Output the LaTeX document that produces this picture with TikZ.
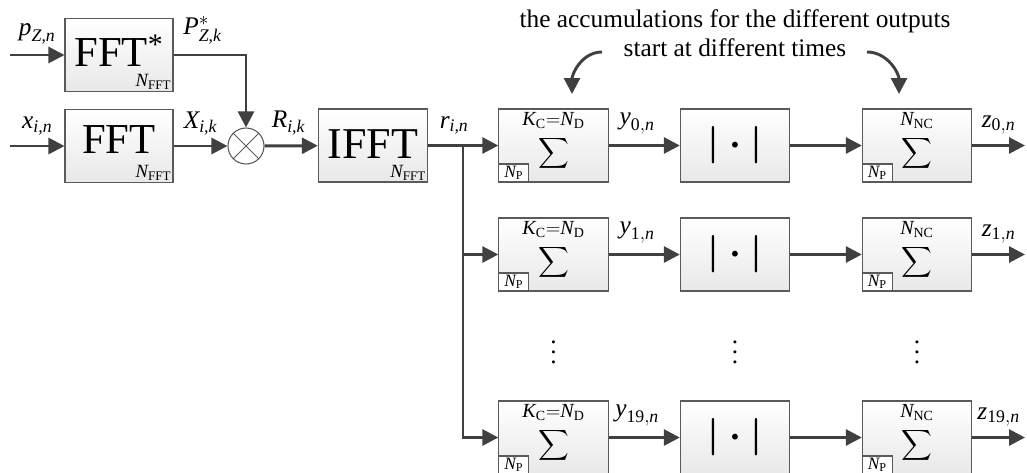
\documentclass[tikz,border=0pt]{standalone}
\usepackage{amsmath}
\usepackage{fontspec}
\setmainfont{Liberation Serif}
\usetikzlibrary{arrows.meta,positioning}
\definecolor{sigGray}{HTML}{404040}
\definecolor{boxEdge}{HTML}{5A5A5A}
\definecolor{boxFill}{HTML}{E8E8E8}
\newcommand{\tv}[1]{\textit{#1}}
\newcommand{\tu}[1]{\textup{#1}}
\newcommand{\accsym}{\raisebox{-10.2pt}[0pt][0pt]{\scalebox{1.6}{$\displaystyle\sum$}}}
\newcommand{\abssym}{\scalebox{2.8}{\boldmath$|\cdot|$}}

\begin{document}
\begin{tikzpicture}[x=0.75pt,y=-0.75pt,>={Triangle[length=12pt,width=12pt]},
  sig/.style={draw=sigGray,line width=2.2pt},
  blk/.style={draw=boxEdge,line width=0.8pt,top color=white,bottom color=boxFill,minimum width=82pt,minimum height=54.75pt,inner sep=0pt},
  big/.style={font=\fontsize{32}{33}\selectfont},
  lab/.style={font=\fontsize{19}{21}\selectfont,inner sep=3pt},
  nfft/.style={label={[anchor=south east,inner sep=1.5pt,font=\fontsize{14}{14}\selectfont]south east:$\tv{N}_{\tu{FFT}}$}},
  npbox/.style={anchor=south west,draw=boxEdge,line width=0.8pt,fill=white,minimum width=22.5pt,minimum height=13.5pt,inner sep=0pt,font=\fontsize{13}{13}\selectfont},
  acc/.style={blk,label={[npbox]south west:$\tv{N}_{\tu{P}}$},label={[anchor=north,inner sep=1pt,yshift=-1.5pt,font=\fontsize{15}{15}\selectfont]north:#1}},
  mult/.style={circle,draw=boxEdge,line width=0.8pt,fill=white,minimum size=27pt,inner sep=0pt}]
  \useasboundingbox (0,0) rectangle (1027,472);
  \node[blk,big,nfft,minimum width=81pt] (fftp) at (119,55) {\raisebox{-8.7pt}[0pt][0pt]{FFT\textsuperscript{*}}};
  \node[blk,big,nfft,minimum width=81pt] (fftx) at (119,146) {\raisebox{-5.3pt}[0pt][0pt]{FFT}};
  \node[mult] (m) at (246,146) {};
  \draw[boxEdge,line width=0.6pt] (m.45) -- (m.225) (m.135) -- (m.315);
  \node[blk,nfft,font=\fontsize{33}{34}\selectfont] (ifft) at (373,145.5) {\raisebox{-9.4pt}[0pt][0pt]{IFFT}};
  \node[acc={$\tv{K}_{\tu{C}}{=}\tv{N}_{\tu{D}}$}] (s0) at (553.5,145.5) {\accsym};
  \node[blk] (a0) at (735,145.5) {\abssym};
  \node[acc={$\tv{N}_{\tu{NC}}$}] (t0) at (917,145.5) {\accsym};
  \node[acc={$\tv{K}_{\tu{C}}{=}\tv{N}_{\tu{D}}$}] (s1) at (553.5,254.5) {\accsym};
  \node[blk] (a1) at (735,254.5) {\abssym};
  \node[acc={$\tv{N}_{\tu{NC}}$}] (t1) at (917,254.5) {\accsym};
  \node[acc={$\tv{K}_{\tu{C}}{=}\tv{N}_{\tu{D}}$}] (s2) at (553.5,437.5) {\accsym};
  \node[blk] (a2) at (735,437.5) {\abssym};
  \node[acc={$\tv{N}_{\tu{NC}}$}] (t2) at (917,437.5) {\accsym};
  \node (d0) at (553.5,345) {\scalebox{1.9}{$\vdots$}};
  \node (d1) at (735,345) {\scalebox{1.9}{$\vdots$}};
  \node (d2) at (917,345) {\scalebox{1.9}{$\vdots$}};
  \node[font=\fontsize{19}{22}\selectfont,align=center] (note) at (735,33) {the accumulations for the different outputs\\start at different times};
  \coordinate (pin) at (10,55);
  \coordinate (xin) at (10,146);
  \coordinate (br) at (463,145.5);
  \coordinate (z0) at (1025,145.5);
  \coordinate (z1) at (1025,254.5);
  \coordinate (z2) at (1025,437.5);
  \coordinate (cl0) at (602,52);
  \coordinate (cl1) at (572,94);
  \coordinate (cr0) at (867,52);
  \coordinate (cr1) at (899,94);
  \draw[sig,->] (pin) -- node[lab,above=4pt]{$\tv{p}_{\tv{Z,n}}$} (fftp);
  \draw[sig,->] (xin) -- node[lab,above=4pt]{$\tv{x}_{\tv{i,n}}$} (fftx);
  \draw[sig,->] (fftp) -| node[lab,above=4pt,pos=0.2]{$\tv{P}^{*}_{\tv{Z,k}}$} (m);
  \draw[sig,->] (fftx) -- node[lab,above=4pt]{$\tv{X}_{\tv{i,k}}$} (m);
  \draw[sig,->] (m) -- node[lab,above=4pt,pos=0.45]{$\tv{R}_{\tv{i,k}}$} (ifft);
  \draw[sig,->] (ifft) -- node[lab,above=4pt,pos=0.37]{$\tv{r}_{\tv{i,n}}$} (s0);
  \draw[sig,->] (br) |- (s1);
  \draw[sig,->] (br) |- (s2);
  \draw[sig,->] (s0) -- node[lab,above=4pt,pos=0.4]{$\tv{y}_{\tu{0},\tv{n}}$} (a0);
  \draw[sig,->] (s1) -- node[lab,above=4pt,pos=0.4]{$\tv{y}_{\tu{1},\tv{n}}$} (a1);
  \draw[sig,->] (s2) -- node[lab,above=4pt,pos=0.4]{$\tv{y}_{\tu{19},\tv{n}}$} (a2);
  \draw[sig,->] (a0) -- (t0);
  \draw[sig,->] (a1) -- (t1);
  \draw[sig,->] (a2) -- (t2);
  \draw[sig,->] (t0) -- node[lab,above=4pt,pos=0.5]{$\tv{z}_{\tu{0},\tv{n}}$} (z0);
  \draw[sig,->] (t1) -- node[lab,above=4pt,pos=0.5]{$\tv{z}_{\tu{1},\tv{n}}$} (z1);
  \draw[sig,->] (t2) -- node[lab,above=4pt,pos=0.5]{$\tv{z}_{\tu{19},\tv{n}}$} (z2);
  \draw[sig,->] (cl0) to[out=180,in=90] (cl1);
  \draw[sig,->] (cr0) to[out=0,in=90] (cr1);
\end{tikzpicture}
\end{document}
